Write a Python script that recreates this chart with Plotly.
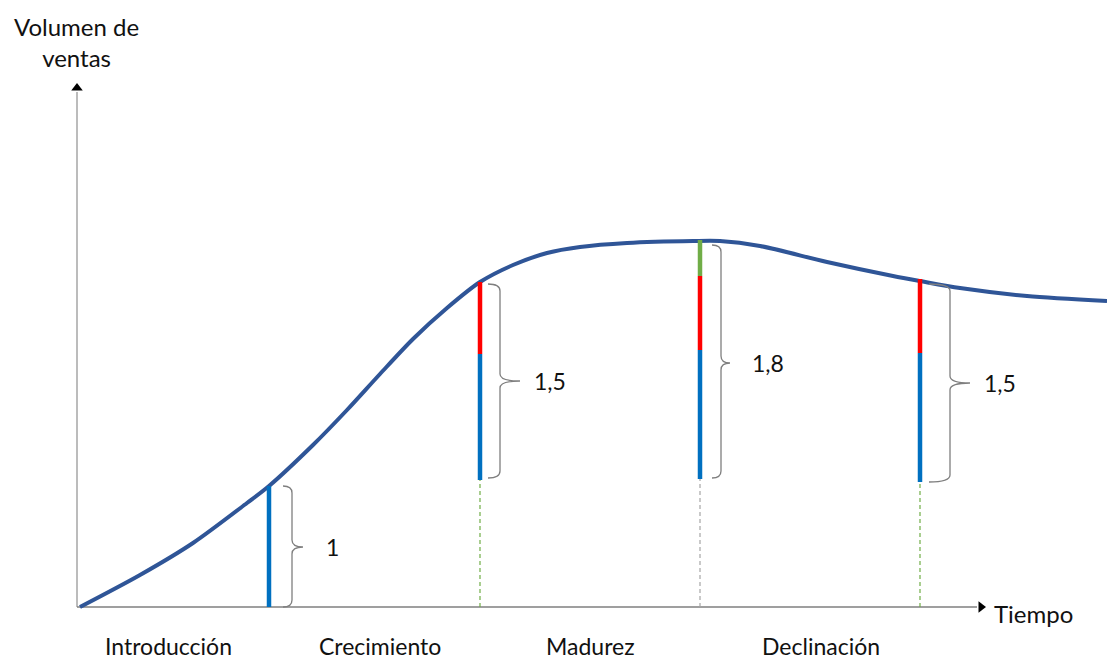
import plotly.graph_objects as go

# ---- data (time units along x, sales-volume units along y; origin at the axes corner)
curve_t = [3, 63, 116, 170, 192, 236, 270, 303, 336, 370, 403, 436, 470, 503, 550,
           616, 643, 683, 750, 816, 843, 883, 950, 1030]
curve_v = [0, 32, 64, 104, 121, 162, 197, 233, 268, 299, 325, 342, 354, 360, 364,
           366, 366, 361, 345, 331, 326, 319, 311, 306]

bar_t = [192, 403, 623, 843]
blue_lo = [0, 127, 128, 125]
blue_hi = [121, 253, 257, 254]
red_hi = [None, 325, 331, 328]
green_hi = [None, None, 367, None]

guide_hi = [None, 127, 128, 125]
guide_colors = [None, "#70AD47", "#A6A6A6", "#70AD47"]

brace_left = [206, 411, 635, 852]
brace_body = [215, 423, 644, 873]
brace_tip = [226, 443, 653, 893]
brace_top = [121, 323, 362, 323]
brace_bot = [0, 129, 129, 125]
brace_mid = [60, 226, 244, 224]
brace_labels = ["1", "1,5", "1,8", "1,5"]
brace_label_t = [247, 455, 673, 905]

stage_labels = ["Introducción", "Crecimiento", "Madurez", "Declinación"]
stage_t = [91, 303, 513, 744]

y_axis_top = 515
x_axis_end = 900

FONT = "Lato, 'Open Sans', sans-serif"

fig = go.Figure()

# axes lines
fig.add_trace(go.Scatter(x=[0, 0], y=[0, y_axis_top], mode="lines",
                         line=dict(color="#A6A6A6", width=1.5), hoverinfo="skip"))
fig.add_trace(go.Scatter(x=[0, x_axis_end], y=[0, 0], mode="lines",
                         line=dict(color="#7F7F7F", width=1.5), hoverinfo="skip"))
fig.add_trace(go.Scatter(x=[0], y=[y_axis_top + 4], mode="markers",
                         marker=dict(symbol="triangle-up", size=10, color="black"), hoverinfo="skip"))
fig.add_trace(go.Scatter(x=[x_axis_end + 4], y=[0], mode="markers",
                         marker=dict(symbol="triangle-right", size=10, color="black"), hoverinfo="skip"))

# dashed guides below bars
for t, hi, c in zip(bar_t, guide_hi, guide_colors):
    if hi is None:
        continue
    fig.add_trace(go.Scatter(x=[t, t], y=[0, hi], mode="lines",
                             line=dict(color=c, width=1.2, dash="4px,3px"), hoverinfo="skip"))

# curve
fig.add_trace(go.Scatter(x=curve_t, y=curve_v, mode="lines",
                         line=dict(color="#2F5597", width=4, shape="spline", smoothing=0.8),
                         hoverinfo="skip"))

# stacked vertical bars
for i, t in enumerate(bar_t):
    segs = [(blue_lo[i], blue_hi[i], "#0070C0")]
    if red_hi[i] is not None:
        segs.append((blue_hi[i], red_hi[i], "#FF0000"))
    if green_hi[i] is not None:
        segs.append((red_hi[i], green_hi[i], "#70AD47"))
    for lo, hi, c in segs:
        fig.add_trace(go.Scatter(x=[t, t], y=[lo, hi], mode="lines",
                                 line=dict(color=c, width=4.5), hoverinfo="skip"))

# braces
shapes = []
r = 7
for L, B, T, top, bot, mid in zip(brace_left, brace_body, brace_tip, brace_top, brace_bot, brace_mid):
    path = (f"M {L},{top} Q {B},{top} {B},{top - r} L {B},{mid + r} "
            f"Q {B},{mid} {T},{mid} Q {B},{mid} {B},{mid - r} "
            f"L {B},{bot + r} Q {B},{bot} {L},{bot}")
    shapes.append(dict(type="path", xref="x", yref="y", path=path,
                       line=dict(color="#7F7F7F", width=1.3)))

annotations = []
for lab, t, m in zip(brace_labels, brace_label_t, brace_mid):
    annotations.append(dict(x=t, y=m, text=lab, showarrow=False, xanchor="left",
                            yanchor="middle", font=dict(size=23, color="#111111", family=FONT)))
for lab, t in zip(stage_labels, stage_t):
    annotations.append(dict(x=t, y=-39, text=lab, showarrow=False, xanchor="center",
                            yanchor="middle", font=dict(size=23, color="#111111", family=FONT)))
annotations.append(dict(x=915, y=-6, text="Tiempo", showarrow=False, xanchor="left",
                        yanchor="middle", font=dict(size=24, color="#111111", family=FONT)))
annotations.append(dict(x=-1, y=565, text="Volumen de<br>ventas", showarrow=False,
                        xanchor="center", yanchor="middle", align="center",
                        font=dict(size=24, color="#111111", family=FONT)))

fig.update_layout(
    width=1107, height=659,
    margin=dict(l=0, r=0, t=0, b=0),
    paper_bgcolor="white", plot_bgcolor="white",
    showlegend=False,
    xaxis=dict(range=[-77, 1030], visible=False, fixedrange=True),
    yaxis=dict(range=[-52, 607], visible=False, fixedrange=True),
    shapes=shapes,
    annotations=annotations,
)

fig.write_html("out.html", config={"displayModeBar": False},
               post_script="document.body.style.margin='0';document.body.style.overflow='hidden';")
